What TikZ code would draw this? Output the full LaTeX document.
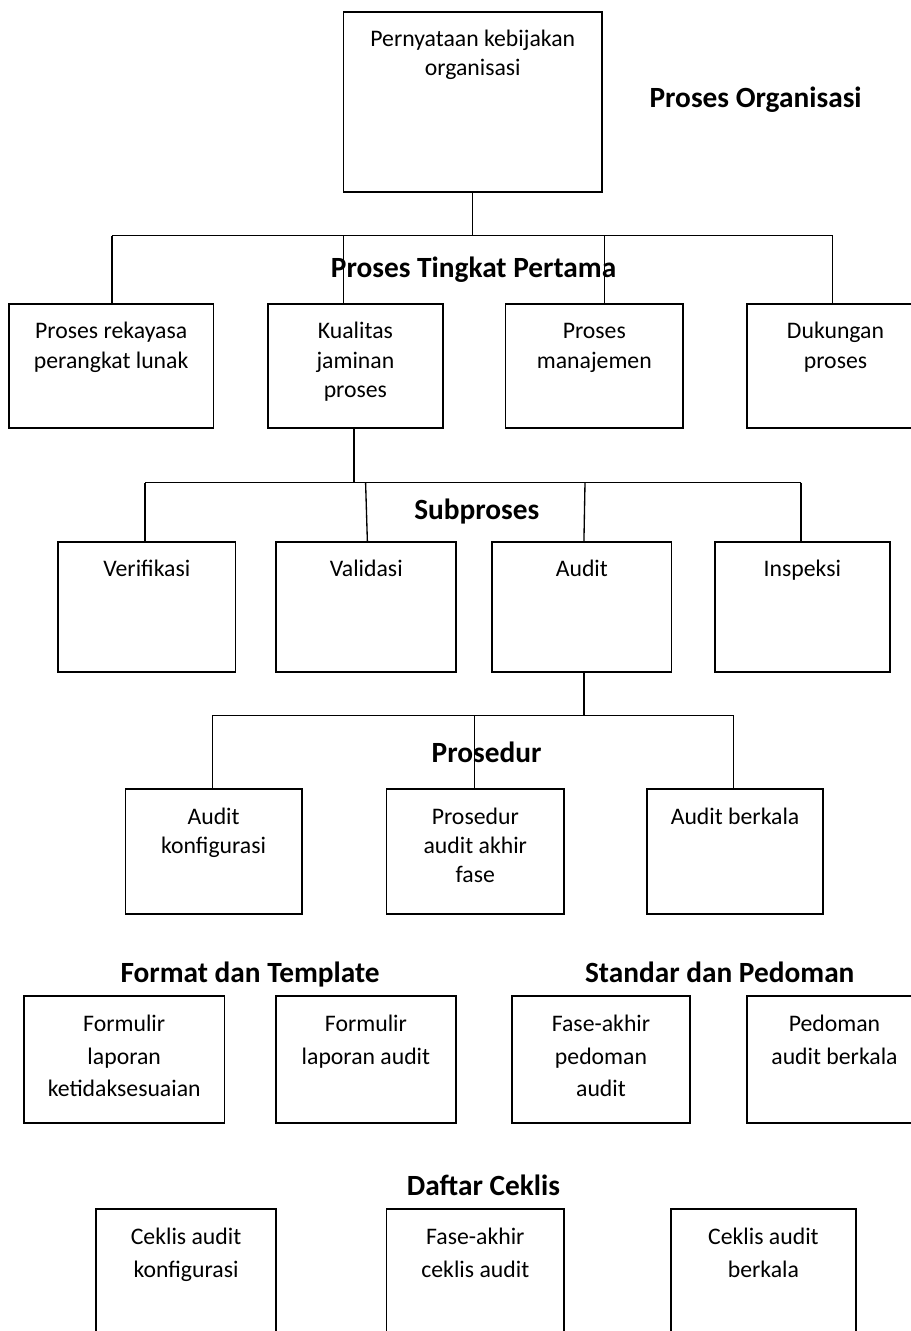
\documentclass[tikz,border=0pt]{standalone}
\usepackage{fontspec}
\setmainfont{Carlito}
\usetikzlibrary{fit,calc}
\tikzset{
  box/.style={draw, line width=1.3pt, inner sep=0pt, outer sep=0pt},
  conn/.style={line width=1pt},
  txt/.style={anchor=north, inner sep=0pt, align=center, font=\fontsize{17.8pt}{22.1pt}\selectfont},
  txtb/.style={anchor=north, inner sep=0pt, align=center, font=\fontsize{17.8pt}{24.6pt}\selectfont},
  head/.style={anchor=base, inner sep=0pt, font=\fontsize{22pt}{26pt}\selectfont\bfseries}
}
\begin{document}
\begin{tikzpicture}[x=0.75pt,y=-0.75pt]
\useasboundingbox (0,0) rectangle (910,1331);
% top
\node[box, fit={(343.6,11.7) (601.9,191.7)}] (top) {};
\node[txt] at ($(top.north)+(0,13.8)$) {\strut Pernyataan kebijakan\\organisasi};
\node[head] (hOrg) at (755.6,107.3) {Proses Organisasi};
% row 1
\node[box, fit={(8.7,304) (213.6,427.7)}] (a1) {};
\node[box, fit={(268,304) (442.8,427.7)}] (a2) {};
\node[box, fit={(505.5,304) (683.1,427.7)}] (a3) {};
\node[box, fit={(747,304) (924,427.7)}] (a4) {};
\node[txt] at ($(a1.north)+(0,13.8)$) {\strut Proses rekayasa\\perangkat lunak};
\node[txt] at ($(a2.north)+(0,13.8)$) {\strut Kualitas\\jaminan\\proses};
\node[txt] at ($(a3.north)+(0,13.8)$) {\strut Proses\\manajemen};
\node[txt] at ($(a4.north)+(0,13.8)$) {\strut Dukungan\\proses};
\coordinate (b1L) at (112,235.7);
\coordinate (b1R) at (832.8,235.7);
\coordinate (d12) at (343.6,235.7);
\coordinate (d13) at (604.8,235.7);
\draw[conn] (top.south) -- (top.south |- b1L);
\draw[conn] (b1L) -- (b1R);
\draw[conn] (b1L) -- (b1L |- a1.north);
\draw[conn] (d12) -- (d12 |- a2.north);
\draw[conn] (d13) -- (d13 |- a3.north);
\draw[conn] (b1R) -- (b1R |- a4.north);
\node[head] (hTing) at (473.6,277.3) {Proses Tingkat Pertama};
% row 2
\node[box, fit={(58,542.3) (235.6,671.7)}] (c1) {};
\node[box, fit={(276.3,542.3) (456.2,671.7)}] (c2) {};
\node[box, fit={(492.2,542.3) (671.5,671.7)}] (c3) {};
\node[box, fit={(715,542.3) (889.7,671.7)}] (c4) {};
\node[txt] at ($(c1.north)+(0,13.8)$) {\strut Verifikasi};
\node[txt] at ($(c2.north)+(0,13.8)$) {\strut Validasi};
\node[txt] at ($(c3.north)+(0,13.8)$) {\strut Audit};
\node[txt] at ($(c4.north)+(0,13.8)$) {\strut Inspeksi};
\coordinate (b2L) at (145,482.7);
\coordinate (b2R) at (801,482.7);
\coordinate (d22) at (365.6,482.7);
\coordinate (e22) at (367.4,542.3);
\coordinate (d23) at (585,482.7);
\coordinate (e23) at (583.9,542.3);
\draw[conn] ([xshift=-1pt]a2.south) -- ([xshift=-1pt]a2.south |- b2L);
\draw[conn] (b2L) -- (b2R);
\draw[conn] (b2L) -- (b2L |- c1.north);
\draw[conn] (d22) -- (e22);
\draw[conn] (d23) -- (e23);
\draw[conn] (b2R) -- (b2R |- c4.north);
\node[head] (hSub) at (476.8,519) {Subproses};
% row 3
\node[box, fit={(125.4,789.3) (301.8,914)}] (p1) {};
\node[box, fit={(386.5,789.3) (564.1,914)}] (p2) {};
\node[box, fit={(647.1,789.3) (823,914)}] (p3) {};
\node[txt] at ($(p1.north)+(0,13.8)$) {\strut Audit\\konfigurasi};
\node[txt] at ($(p2.north)+(0,13.8)$) {\strut Prosedur\\audit akhir\\fase};
\node[txt] at ($(p3.north)+(0,13.8)$) {\strut Audit berkala};
\coordinate (b3L) at (212.4,715.7);
\coordinate (b3R) at (733.6,715.7);
\coordinate (d32) at (474.7,715.7);
\coordinate (u3) at (583.9,715.7);
\draw[conn] (u3 |- c3.south) -- (u3);
\draw[conn] (b3L) -- (b3R);
\draw[conn] (b3L) -- (b3L |- p1.north);
\draw[conn] (d32) -- (d32 |- p2.north);
\draw[conn] (b3R) -- (b3R |- p3.north);
\node[head] (hPro) at (486.6,762.3) {Prosedur};
% row 4
\node[head] (hFmt) at (250.1,982.7) {Format dan Template};
\node[head] (hStd) at (719.7,982.7) {Standar dan Pedoman};
\node[box, fit={(23.8,995.7) (224.6,1122.7)}] (f1) {};
\node[box, fit={(275.7,995.7) (456.2,1122.7)}] (f2) {};
\node[box, fit={(511.9,995.7) (690.1,1122.7)}] (f3) {};
\node[box, fit={(747,995.7) (922,1122.7)}] (f4) {};
\node[txtb] at ($(f1.north)+(0,12.4)$) {\strut Formulir\\laporan\\ketidaksesuaian};
\node[txtb] at ($(f2.north)+(0,12.4)$) {\strut Formulir\\laporan audit};
\node[txtb] at ($(f3.north)+(0,12.4)$) {\strut Fase-akhir\\pedoman\\audit};
\node[txtb] at ($(f4.north)+(0,12.4)$) {\strut Pedoman\\audit berkala};
% row 5
\node[head] (hCek) at (483.5,1195) {Daftar Ceklis};
\node[box, fit={(95.8,1209) (276.3,1345)}] (k1) {};
\node[box, fit={(386.5,1209) (564.1,1345)}] (k2) {};
\node[box, fit={(670.9,1209) (856,1345)}] (k3) {};
\node[txtb] at ($(k1.north)+(0,12.4)$) {\strut Ceklis audit\\konfigurasi};
\node[txtb] at ($(k2.north)+(0,12.4)$) {\strut Fase-akhir\\ceklis audit};
\node[txtb] at ($(k3.north)+(0,12.4)$) {\strut Ceklis audit\\berkala};
\end{tikzpicture}
\end{document}
